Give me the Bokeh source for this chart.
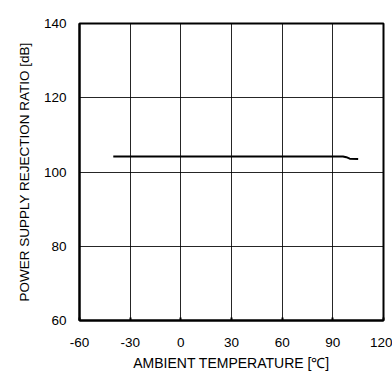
from bokeh.plotting import figure
from bokeh.embed import file_html
from bokeh.resources import INLINE
from bokeh.models import Label, FixedTicker

temps = [-40, -20, 0, 20, 40, 60, 80, 96, 98, 100, 105]
psrr = [104.2, 104.2, 104.2, 104.2, 104.2, 104.2, 104.2, 104.2, 104.0, 103.6, 103.5]
x_ticks = [-60, -30, 0, 30, 60, 90, 120]
x_tick_labels = ["-60", "-30", "0", "30", "60", "90", "120"]
y_ticks = [60, 80, 100, 120, 140]

FONT = "Liberation Sans"

p = figure(width=392, height=376, output_backend="svg", toolbar_location=None,
           x_range=(-60, 120), y_range=(60, 140),
           min_border_left=79, min_border_right=9, min_border_top=23, min_border_bottom=56)

p.line(temps, psrr, line_color="black", line_width=2)

p.outline_line_color = "black"
p.outline_line_width = 2

for ax in (p.xaxis[0], p.yaxis[0]):
    ax.axis_line_color = "black"
    ax.axis_line_width = 2
    ax.major_label_text_font = FONT
    ax.major_label_text_font_size = "13.5px"
    ax.major_label_text_color = "black"
    ax.axis_label_text_font = FONT
    ax.axis_label_text_font_style = "normal"
    ax.axis_label_text_color = "black"
    ax.minor_tick_line_color = None

p.xaxis.axis_label_text_font_size = "14px"
p.yaxis.axis_label_text_font_size = "13.5px"
p.xaxis.ticker = FixedTicker(ticks=x_ticks)
p.xaxis.major_label_overrides = {t: s for t, s in zip(x_ticks, x_tick_labels)}
p.yaxis.ticker = FixedTicker(ticks=y_ticks)
p.xaxis.major_tick_in = 3
p.xaxis.major_tick_out = 0
p.xaxis.major_tick_line_width = 2
p.yaxis.major_tick_in = 0
p.yaxis.major_tick_out = 0
p.xaxis.major_label_standoff = 17
p.yaxis.major_label_standoff = 13
p.xaxis.axis_label = "AMBIENT TEMPERATURE [\u2103]"
p.yaxis.axis_label = "POWER SUPPLY REJECTION RATIO [dB]"
p.xaxis.axis_label_standoff = 5
p.yaxis.axis_label_standoff = 9

p.xgrid.grid_line_color = "black"
p.ygrid.grid_line_color = "black"
p.xgrid.grid_line_width = 1
p.ygrid.grid_line_width = 1
p.xgrid.grid_line_alpha = 0.85
p.ygrid.grid_line_alpha = 0.85

p.add_layout(Label(x=120, y=140, text="BU7421 family", text_align="right",
                   text_baseline="bottom", y_offset=3, text_font=FONT,
                   text_font_size="12.5px", text_color="black"))

open("out.html", "w").write(file_html(p, INLINE))
